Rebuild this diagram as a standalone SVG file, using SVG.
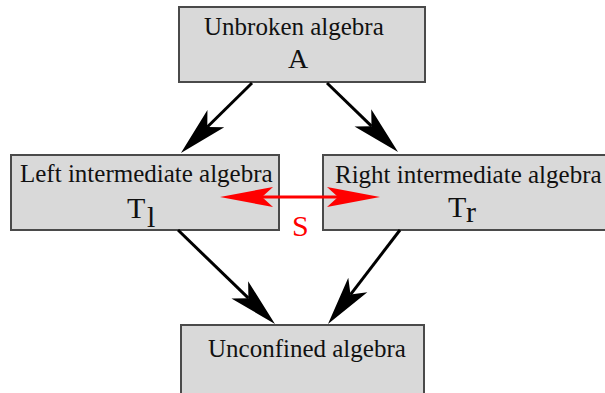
<svg xmlns="http://www.w3.org/2000/svg" width="605" height="393" viewBox="0 0 605 393">
<style>
.box{fill:#d9d9d9;stroke:#4a4a4a;stroke-width:2}
.t{font-family:"Liberation Serif","Times New Roman",serif;font-size:25px;fill:#111}
.m{font-family:"Liberation Serif","Times New Roman",serif;font-size:30px;fill:#111}
.s{font-family:"Liberation Serif","Times New Roman",serif;font-size:30px;fill:#ff0000}
.blk{stroke:#000;stroke-width:3;fill:none}
.red{stroke:#ff0000;stroke-width:3;fill:none}
</style>
<defs>
<marker id="ah" markerUnits="userSpaceOnUse" markerWidth="60" markerHeight="32" viewBox="-14 -16 60 32" refX="0" refY="0" orient="auto">
<path d="M37,0 L-12,-12 L0,0 L-12,12 Z" fill="#000"/>
</marker>
<marker id="rh" markerUnits="userSpaceOnUse" markerWidth="60" markerHeight="30" viewBox="-14 -15 60 30" refX="0" refY="0" orient="auto-start-reverse">
<path d="M42,0 L-11,-10 L0,0 L-11,10 Z" fill="#ff0000"/>
</marker>
</defs>
<rect width="605" height="393" fill="#fff"/>
<g id="unbroken">
<rect class="box" x="179" y="7" width="246" height="75"/>
<text class="t" x="204" y="35">Unbroken algebra</text>
<text class="m" x="298" y="68" text-anchor="middle" style="font-size:28px">A</text>
</g>
<g id="left">
<rect class="box" x="11" y="155" width="268" height="75"/>
<text class="t" x="20" y="182">Left intermediate algebra</text>
<text class="m" x="127" y="218">T</text>
<text class="m" x="147" y="227">l</text>
</g>
<g id="right">
<rect class="box" x="323" y="155" width="290" height="75"/>
<text class="t" x="335" y="183">Right intermediate algebra</text>
<text class="m" x="448" y="217">T</text>
<text class="m" x="466" y="222">r</text>
</g>
<g id="unconfined">
<rect class="box" x="181" y="325" width="243" height="80"/>
<text class="t" x="208" y="357">Unconfined algebra</text>
</g>
<g id="connectors">
<line class="blk" x1="252" y1="83" x2="207.3" y2="127" marker-end="url(#ah)"/>
<line class="blk" x1="327" y1="83" x2="371.5" y2="126.2" marker-end="url(#ah)"/>
<line class="blk" x1="178" y1="230" x2="248.4" y2="298.2" marker-end="url(#ah)"/>
<line class="blk" x1="400" y1="230" x2="350.5" y2="294.6" marker-end="url(#ah)"/>
<line class="red" x1="262" y1="197" x2="338" y2="197" marker-start="url(#rh)" marker-end="url(#rh)"/>
<text class="s" x="292" y="236">S</text>
</g>
</svg>
